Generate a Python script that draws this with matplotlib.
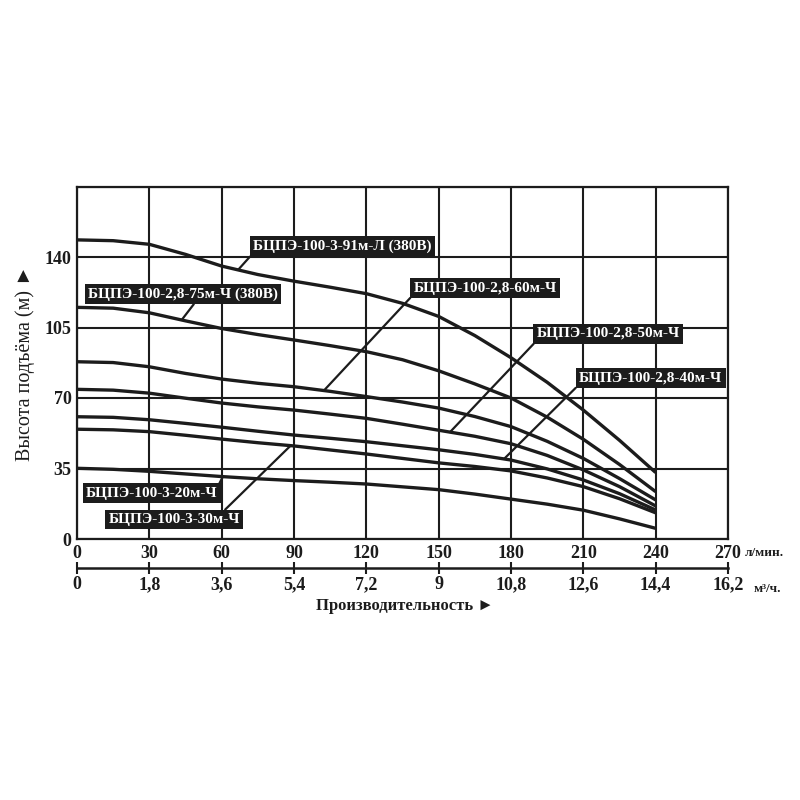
import matplotlib
matplotlib.use("Agg")
import matplotlib.pyplot as plt
import numpy as np

# flow in l/min, head in m, every 15 l/min
flow = [0, 15, 30, 45, 60, 75, 90, 105, 120, 135, 150, 165, 180, 195, 210, 225, 240]

head_91 = [148.5, 148.1, 146.3, 141.3, 135.5, 131.3, 128, 125, 121.8, 117, 110.5, 101, 90, 77.8, 64, 49, 33]
head_75 = [115, 114.6, 112.3, 108.3, 104.5, 101.5, 98.8, 96, 93, 89, 83.5, 77, 70, 60.5, 49.5, 37, 23.5]
head_60 = [88, 87.6, 85.5, 82.2, 79.4, 77.3, 75.6, 73.3, 70.7, 68, 65, 60.8, 55.8, 48.5, 40, 30, 19.4]
head_50 = [74.3, 73.9, 72.4, 69.9, 67.5, 65.6, 64, 62, 59.9, 57, 54, 51, 47.3, 41.5, 34.3, 26, 16.4]
head_40 = [60.7, 60.4, 59.2, 57.4, 55.5, 53.5, 51.6, 50, 48.3, 46.3, 44.3, 42, 39.2, 34.8, 29.3, 22.5, 14.4]
head_30 = [54.5, 54.2, 53.3, 51.5, 49.6, 47.8, 46.2, 44.2, 42.2, 40, 37.8, 36, 33.8, 30.3, 26, 20, 13]
head_20 = [35.1, 34.6, 33.6, 32.3, 31, 29.9, 29, 28.2, 27.3, 25.9, 24.5, 22.3, 19.8, 17.3, 14.3, 10, 5.3]

pump_names = ["БЦПЭ-100-3-91м-Л (380В)", "БЦПЭ-100-2,8-75м-Ч (380В)", "БЦПЭ-100-2,8-60м-Ч",
              "БЦПЭ-100-2,8-50м-Ч", "БЦПЭ-100-2,8-40м-Ч", "БЦПЭ-100-3-30м-Ч", "БЦПЭ-100-3-20м-Ч"]

x_ticks = [0, 30, 60, 90, 120, 150, 180, 210, 240, 270]
m3_labels = ["0", "1,8", "3,6", "5,4", "7,2", "9", "10,8", "12,6", "14,4", "16,2"]
y_ticks = [0, 35, 70, 105, 140]

ink = "#1c1c1c"
plt.rcParams['font.family'] = ['Liberation Serif', 'DejaVu Serif']
plt.rcParams['font.weight'] = 'bold'

fig = plt.figure(figsize=(8, 8), dpi=100)
ax = fig.add_axes([0.09625, 0.32625, 0.81375, 0.440625])

curves = [head_91, head_75, head_60, head_50, head_40, head_30, head_20]
for h in curves:
    ax.plot(flow, h, color=ink, lw=2.4, solid_capstyle='butt', solid_joinstyle='round', zorder=3)

ax.set_xlim(0, 270)
ax.set_ylim(0, 175)
ax.set_xticks(x_ticks)
ax.set_yticks(y_ticks + [175])
ax.set_yticklabels([str(v) for v in y_ticks] + [""])
ax.set_xticklabels([str(v) for v in x_ticks])
ax.grid(True, color=ink, lw=1.5)
ax.tick_params(length=0, labelsize=13, pad=4, colors=ink)
for s in ax.spines.values():
    s.set_color(ink)
    s.set_linewidth(1.6)

# second scale in m3/h under the l/min one
sec = ax.secondary_xaxis(-0.082, functions=(lambda x: x * 0.06, lambda x: x / 0.06))
sec.set_xticks([v * 0.06 for v in x_ticks])
sec.set_xticklabels(m3_labels)
sec.tick_params(direction='inout', length=8, width=1.5, labelsize=13, pad=2, colors=ink)
sec.spines['bottom'].set_linewidth(1.8)
sec.spines['bottom'].set_color(ink)

ax.text(1.0265, -0.04, "л/мин.", fontsize=9.5, va='center', ha='left', color=ink,
        transform=ax.transAxes)
ax.text(1.04, -0.142, "м³/ч.", fontsize=9.5, va='center', ha='left', color=ink,
        transform=ax.transAxes)

ax.set_ylabel("Высота подъёма (м) ►", fontsize=14.5, color=ink)
ax.yaxis.set_label_coords(-0.065, 0.5)
fig.text(0.506, 0.2425, "Производительность ►", fontsize=12, ha='center', va='center', color=ink)

# labels: (text centre, flow where the leader hits the curve, corner of the box for the leader)
label_pos = [(110, 145.2), (44, 121.6), (169.2, 124.6), (220.4, 101.8), (237.9, 79.9), (40.4, 9.7), (31.1, 22.8)]
hit_flow = [66.8, 43.4, 102.4, 154.7, 177.1, 88.6, 60.5]
rel = [(0, 0), (0.57, 0), (0, 0), (0, 0), (0, 0), (0.86, 1), (1, 1)]

for name, h, pos, fx, rp in zip(pump_names, curves, label_pos, hit_flow, rel):
    hy = np.interp(fx, flow, h)
    ax.annotate(name, xy=(fx, hy), xytext=pos, ha='center', va='center',
                fontsize=11, color='white', zorder=5, annotation_clip=False,
                bbox=dict(boxstyle='square,pad=0.22', fc=ink, ec='none'),
                arrowprops=dict(arrowstyle='-', color=ink, lw=1.6, relpos=rp,
                                shrinkA=0, shrinkB=0))

fig.savefig("out.png", dpi=100, facecolor='white')
